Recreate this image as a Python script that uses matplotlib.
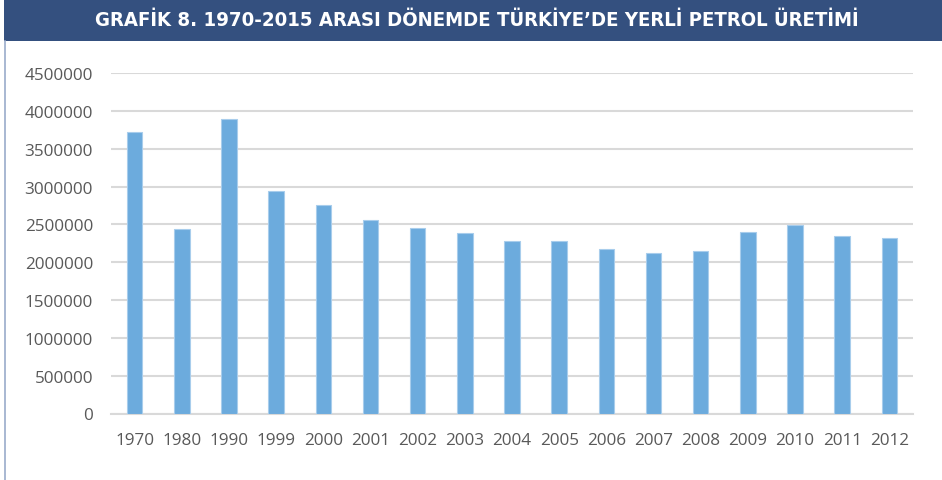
import matplotlib.pyplot as plt
from matplotlib.patches import Rectangle
from matplotlib.lines import Line2D

# Yerli petrol üretimi (ton)
years = ["1970", "1980", "1990", "1999", "2000", "2001", "2002", "2003", "2004",
         "2005", "2006", "2007", "2008", "2009", "2010", "2011", "2012"]
production = [3715000, 2435000, 3890000, 2934000, 2752000, 2557000, 2446000,
              2380000, 2283000, 2283000, 2175000, 2122000, 2148000, 2396000,
              2492000, 2352000, 2325000]
y_ticks = [0, 500000, 1000000, 1500000, 2000000, 2500000, 3000000, 3500000,
           4000000, 4500000]

W, H = 942, 481
fig = plt.figure(figsize=(W / 100, H / 100), dpi=100)

# header band and left frame line
fig.patches.append(Rectangle((4 / W, 1 - 42 / H), 1 - 4 / W, 41 / H,
                             transform=fig.transFigure, facecolor="#34507F",
                             edgecolor="none", zorder=0))
fig.lines.append(Line2D([4.5 / W, 4.5 / W], [0, 1 - 42 / H],
                        transform=fig.transFigure, color="#9AABCB", lw=1.2))
fig.text(477 / W, 1 - 21 / H,
         "GRAFİK 8. 1970-2015 ARASI DÖNEMDE TÜRKİYE’DE YERLİ PETROL ÜRETİMİ",
         ha="center", va="center", color="white", fontsize=14.6, fontweight="bold",
         fontstretch="condensed", family="DejaVu Sans")

ax = fig.add_axes([111 / W, 1 - 414.5 / H, 802 / W, 340.5 / H])
x = range(len(years))
ax.bar(x, production, width=0.33, color="#6CABDD", edgecolor="#A8CDEC",
       linewidth=0.8, zorder=3)

ax.set_xlim(-0.5, len(years) - 0.5)
ax.set_ylim(0, 4500000)
ax.set_yticks(y_ticks)
ax.set_yticklabels([str(v) for v in y_ticks])
ax.set_xticks(list(x))
ax.set_xticklabels(years)
ax.grid(axis="y", color="#D9D9D9", lw=1.5, zorder=0)
for s in ["top", "right", "left"]:
    ax.spines[s].set_visible(False)
ax.spines["bottom"].set_color("#D9D9D9")
ax.spines["bottom"].set_linewidth(1.5)
ax.tick_params(length=0, labelcolor="#595959", labelsize=12.3)
ax.tick_params(axis="y", pad=13)
ax.tick_params(axis="x", pad=13)
for lbl in ax.get_xticklabels() + ax.get_yticklabels():
    lbl.set_family("Open Sans")

fig.savefig("out.png", dpi=100)
